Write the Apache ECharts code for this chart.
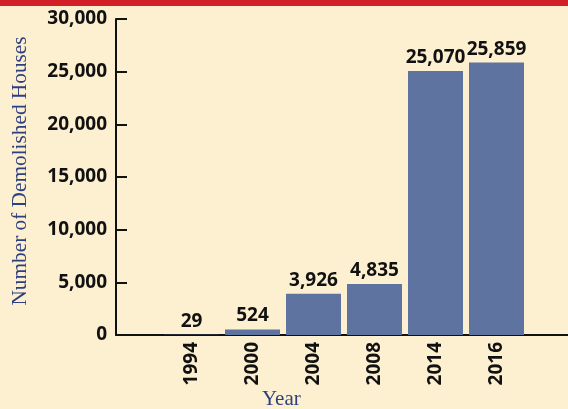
<!DOCTYPE html>
<html>
<head>
<meta charset="utf-8">
<script src="https://cdn.jsdelivr.net/npm/echarts@6/dist/echarts.min.js"></script>
<style>
html,body{margin:0;padding:0;background:#fdf0d0;}
#c{width:568px;height:409px;}
</style>
</head>
<body>
<div id="c"></div>
<script>
var years = ['1994', '2000', '2004', '2008', '2014', '2016'];
var houses = [29, 524, 3926, 4835, 25070, 25859];
var yTicks = { min: 0, max: 30000, interval: 5000 };
var yName = 'Number of Demolished Houses';
var xName = 'Year';

var fmt = function (v) { return Number(v).toLocaleString('en-US'); };
var sans = '"Open Sans", sans-serif';
var serif = '"Liberation Serif", "Times New Roman", serif';

var chart = echarts.init(document.getElementById('c'));
chart.setOption({
  backgroundColor: '#fdf0d0',
  animation: false,
  grid: [
    { left: 116, right: 0, top: 19, bottom: 74 },
    { left: 161, right: 41, top: 19, bottom: 74 }
  ],
  xAxis: [
    { type: 'value', gridIndex: 0, min: 0, max: 1,
      axisLine: { show: true, lineStyle: { color: '#111', width: 2 } },
      axisTick: { show: false }, axisLabel: { show: false }, splitLine: { show: false } },
    { type: 'category', gridIndex: 1, data: years,
      axisLine: { show: false }, axisTick: { show: false },
      axisLabel: { rotate: 90, margin: 7, color: '#111', fontFamily: sans, fontWeight: 'bold', fontSize: 19 } }
  ],
  yAxis: [
    { type: 'value', gridIndex: 0, min: yTicks.min, max: yTicks.max, interval: yTicks.interval,
      axisLine: { show: true, lineStyle: { color: '#111', width: 2 } },
      axisTick: { show: true, inside: true, length: 11, lineStyle: { color: '#111', width: 2 } },
      axisLabel: { margin: 9, color: '#111', fontFamily: sans, fontWeight: 'bold', fontSize: 19, formatter: fmt },
      splitLine: { show: false } },
    { type: 'value', gridIndex: 1, min: yTicks.min, max: yTicks.max, show: false, splitLine: { show: false } }
  ],
  graphic: [
    { type: 'rect', left: 0, top: 0, shape: { width: 568, height: 6 }, style: { fill: '#d31f28' } },
    { type: 'text', left: 262, top: 389, style: { text: xName, font: '21px ' + serif, fill: '#2d3f7e' } },
    { type: 'text', x: 20, y: 171, rotation: Math.PI / 2,
      style: { text: yName, font: '21.3px ' + serif, fill: '#2d3f7e', align: 'center', verticalAlign: 'middle' } }
  ],
  series: [{
    type: 'bar', xAxisIndex: 1, yAxisIndex: 1, data: houses, barWidth: 55,
    itemStyle: { color: '#5e73a0' },
    label: { show: true, position: 'top', distance: 4, color: '#111', fontFamily: sans, fontWeight: 'bold', fontSize: 19, formatter: function (p) { return fmt(p.value); } }
  }]
});
</script>
</body>
</html>
